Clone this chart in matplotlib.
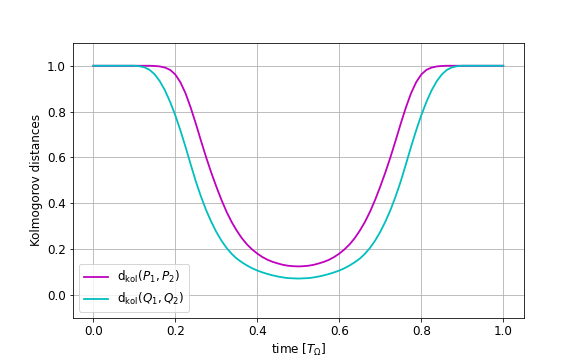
import matplotlib
matplotlib.use("Agg")
import matplotlib.pyplot as plt

time = [0.0, 0.025, 0.05, 0.075, 0.1, 0.1125, 0.125, 0.1375, 0.15, 0.1625,
        0.175, 0.1875, 0.2, 0.2125, 0.225, 0.2375, 0.25, 0.2625, 0.275, 0.2875,
        0.3, 0.3125, 0.325, 0.3375, 0.35, 0.3625, 0.375, 0.3875, 0.4, 0.4125,
        0.425, 0.4375, 0.45, 0.4625, 0.475, 0.4875, 0.5,
        0.5125, 0.525, 0.5375, 0.55, 0.5625, 0.575, 0.5875, 0.6, 0.6125, 0.625,
        0.6375, 0.65, 0.6625, 0.675, 0.6875, 0.7, 0.7125, 0.725, 0.7375, 0.75,
        0.7625, 0.775, 0.7875, 0.8, 0.8125, 0.825, 0.8375, 0.85, 0.8625, 0.875,
        0.8875, 0.9, 0.925, 0.95, 0.975, 1.0]

d_kol_P = [1.0, 1.0, 1.0, 1.0, 1.0, 1.0, 1.0, 1.0, 0.999, 0.997,
           0.992, 0.982, 0.962, 0.928, 0.880, 0.818, 0.748, 0.674, 0.602, 0.535,
           0.473, 0.415, 0.363, 0.318, 0.280, 0.247, 0.220, 0.198, 0.180, 0.165,
           0.153, 0.144, 0.137, 0.131, 0.127, 0.125, 0.124,
           0.125, 0.127, 0.131, 0.137, 0.144, 0.153, 0.165, 0.180, 0.198, 0.220,
           0.247, 0.280, 0.318, 0.363, 0.415, 0.473, 0.535, 0.602, 0.674, 0.748,
           0.818, 0.880, 0.928, 0.962, 0.982, 0.992, 0.997, 0.999, 1.0, 1.0,
           1.0, 1.0, 1.0, 1.0, 1.0, 1.0]

d_kol_Q = [1.0, 1.0, 1.0, 1.0, 1.0, 0.998, 0.993, 0.982, 0.962, 0.932,
           0.892, 0.842, 0.784, 0.718, 0.646, 0.570, 0.496, 0.430, 0.371, 0.320,
           0.275, 0.237, 0.205, 0.179, 0.158, 0.142, 0.128, 0.116, 0.106, 0.098,
           0.091, 0.085, 0.080, 0.076, 0.073, 0.072, 0.071,
           0.072, 0.073, 0.076, 0.080, 0.085, 0.091, 0.098, 0.106, 0.116, 0.128,
           0.142, 0.158, 0.179, 0.205, 0.237, 0.275, 0.320, 0.371, 0.430, 0.496,
           0.570, 0.646, 0.718, 0.784, 0.842, 0.892, 0.932, 0.962, 0.982, 0.993,
           0.998, 1.0, 1.0, 1.0, 1.0, 1.0]

labels = [r"d$_{\rm kol}(P_1,P_2)$", r"d$_{\rm kol}(Q_1,Q_2)$"]
colors = ["m", "c"]

plt.rcParams["font.size"] = 12
fig, ax = plt.subplots(figsize=(582 / 72, 357 / 72), dpi=72)
ax.plot(time, d_kol_P, color=colors[0], label=labels[0], lw=1.8)
ax.plot(time, d_kol_Q, color=colors[1], label=labels[1], lw=1.8)
ax.set_ylim(-0.1, 1.1)
ax.grid(True)
ax.set_xlabel(r"time $[T_\Omega]$")
ax.set_ylabel("Kolmogorov distances")
ax.legend(loc="lower left")
fig.savefig("out.png", dpi=72)
